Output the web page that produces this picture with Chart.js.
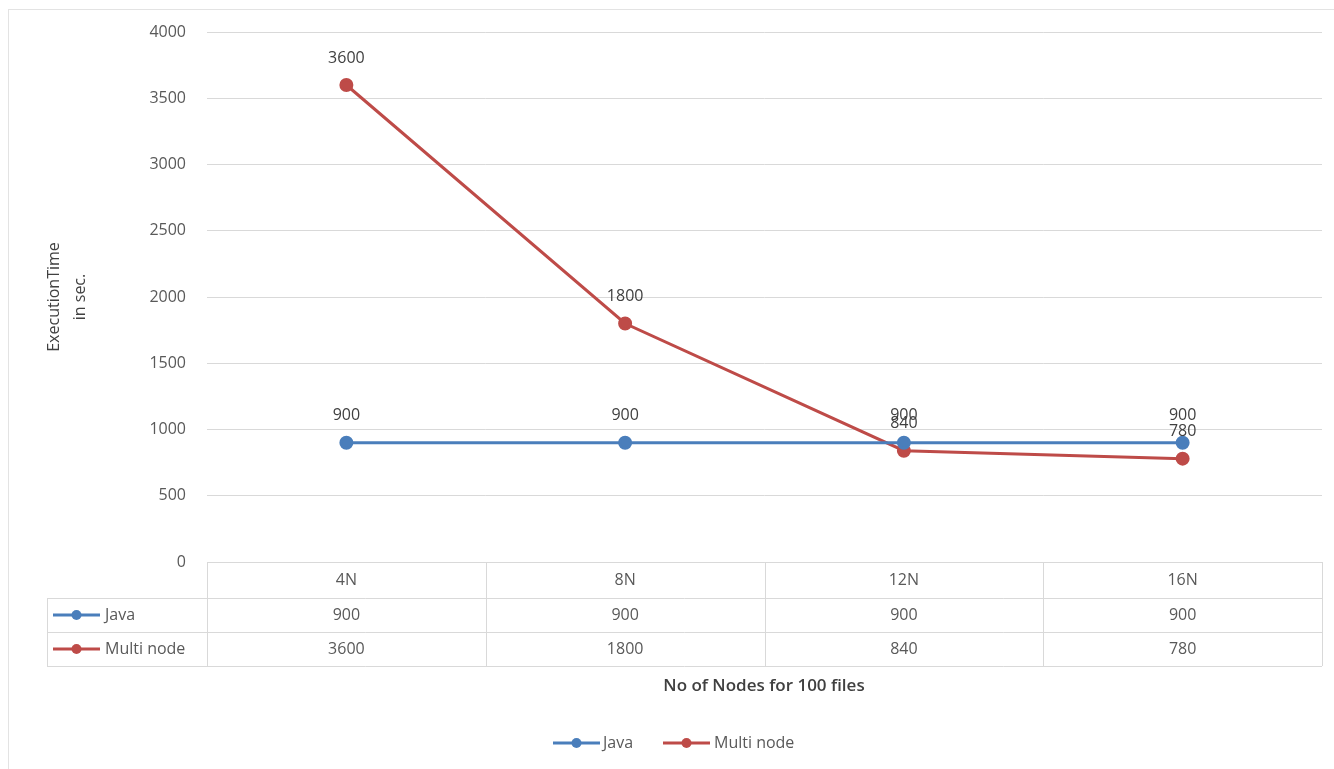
<!DOCTYPE html>
<html>
<head>
<meta charset="utf-8">
<script src="https://cdn.jsdelivr.net/npm/chart.js@4/dist/chart.umd.min.js"></script>
<style>
  html, body { margin: 0; padding: 0; background: #ffffff; }
  #wrap { width: 1334px; height: 769px; position: relative; }
</style>
</head>
<body>
<div id="wrap"><canvas id="c" width="1334" height="769"></canvas></div>
<script>
// Node counts on the horizontal axis
const categories = ['4N', '8N', '12N', '16N'];
// Execution time in seconds for each configuration
const javaTimes = [900, 900, 900, 900];
const multiNodeTimes = [3600, 1800, 840, 780];
// Value axis ticks
const yTicks = [0, 500, 1000, 1500, 2000, 2500, 3000, 3500, 4000];

const seriesNames = ['Java', 'Multi node'];
const seriesColors = ['#4a7ebb', '#be4b48'];
const FONT = '"Open Sans", "Noto Sans", sans-serif';
const TEXT = '#595959';
const GRID = '#d9d9d9';

// Draws a legend key: short line with a dot in the middle
function drawKey(ctx, x1, x2, y, color) {
  ctx.save();
  ctx.strokeStyle = color;
  ctx.lineWidth = 3;
  ctx.beginPath();
  ctx.moveTo(x1, y);
  ctx.lineTo(x2, y);
  ctx.stroke();
  ctx.fillStyle = color;
  ctx.beginPath();
  ctx.arc((x1 + x2) / 2, y, 5, 0, Math.PI * 2);
  ctx.fill();
  ctx.restore();
}

const decorations = {
  id: 'decorations',
  beforeDraw(chart) {
    const ctx = chart.ctx;
    ctx.save();
    ctx.fillStyle = '#ffffff';
    ctx.fillRect(0, 0, chart.width, chart.height);
    // outer frame
    ctx.strokeStyle = '#e3e3e3';
    ctx.lineWidth = 1;
    ctx.strokeRect(8.5, 9.5, chart.width + 10, chart.height + 10);
    ctx.restore();
  },
  afterDatasetsDraw(chart) {
    const ctx = chart.ctx;
    const area = chart.chartArea;
    const xs = chart.scales.x;

    // value labels above each point
    ctx.save();
    ctx.font = '16px ' + FONT;
    ctx.fillStyle = '#404040';
    ctx.textAlign = 'center';
    ctx.textBaseline = 'middle';
    chart.data.datasets.forEach((ds, di) => {
      const meta = chart.getDatasetMeta(di);
      meta.data.forEach((pt, i) => {
        ctx.fillText(String(ds.data[i]), pt.x, pt.y - 27);
      });
    });
    ctx.restore();

    // data table below the plot
    const top = area.bottom;
    const rowH = [36, 34, 34];
    const r1 = top + rowH[0];
    const r2 = r1 + rowH[1];
    const r3 = r2 + rowH[2];
    const leftCol = 47;
    const n = categories.length;
    const colW = (area.right - area.left) / n;

    ctx.save();
    ctx.strokeStyle = GRID;
    ctx.lineWidth = 1;
    ctx.beginPath();
    // horizontal rules
    ctx.moveTo(area.left, Math.round(top) + 0.5);
    ctx.lineTo(area.right, Math.round(top) + 0.5);
    [r1, r2, r3].forEach(y => {
      ctx.moveTo(leftCol, Math.round(y) + 0.5);
      ctx.lineTo(area.right, Math.round(y) + 0.5);
    });
    // vertical rules
    ctx.moveTo(leftCol + 0.5, r1);
    ctx.lineTo(leftCol + 0.5, r3);
    for (let i = 0; i <= n; i++) {
      const x = Math.round(area.left + i * colW) + 0.5;
      ctx.moveTo(x, top);
      ctx.lineTo(x, r3);
    }
    ctx.stroke();

    ctx.font = '16px ' + FONT;
    ctx.fillStyle = TEXT;
    ctx.textAlign = 'center';
    ctx.textBaseline = 'middle';
    categories.forEach((c, i) => {
      const cx = xs.getPixelForValue(i);
      ctx.fillText(c, cx, (top + r1) / 2);
      ctx.fillText(String(javaTimes[i]), cx, (r1 + r2) / 2);
      ctx.fillText(String(multiNodeTimes[i]), cx, (r2 + r3) / 2);
    });

    // series keys in the first column
    const rowMid = [(r1 + r2) / 2, (r2 + r3) / 2];
    seriesNames.forEach((name, si) => {
      drawKey(ctx, 53, 100, rowMid[si], seriesColors[si]);
      ctx.fillStyle = TEXT;
      ctx.textAlign = 'left';
      ctx.fillText(name, 105, rowMid[si]);
    });

    // horizontal axis title
    ctx.font = '600 17px ' + FONT;
    ctx.fillStyle = '#404040';
    ctx.textAlign = 'center';
    ctx.fillText('No of Nodes for 100 files', 764, 686);

    // vertical axis title
    ctx.save();
    ctx.translate(0, 297);
    ctx.rotate(-Math.PI / 2);
    ctx.font = '16px ' + FONT;
    ctx.fillText('ExecutionTime', 0, 54);
    ctx.fillText('in sec.', 0, 80);
    ctx.restore();

    // legend at the bottom
    ctx.font = '16px ' + FONT;
    ctx.fillStyle = TEXT;
    ctx.textAlign = 'left';
    drawKey(ctx, 553, 600, 743, seriesColors[0]);
    ctx.fillText(seriesNames[0], 603, 743);
    drawKey(ctx, 663, 710, 743, seriesColors[1]);
    ctx.fillStyle = TEXT;
    ctx.fillText(seriesNames[1], 714, 743);
    ctx.restore();
  }
};

new Chart(document.getElementById('c'), {
  type: 'line',
  data: {
    labels: categories,
    datasets: [
      {
        label: seriesNames[0],
        data: javaTimes,
        borderColor: seriesColors[0],
        backgroundColor: seriesColors[0],
        borderWidth: 3,
        pointRadius: 5.5,
        pointHoverRadius: 5.5,
        tension: 0
      },
      {
        label: seriesNames[1],
        data: multiNodeTimes,
        borderColor: seriesColors[1],
        backgroundColor: seriesColors[1],
        borderWidth: 3,
        pointRadius: 5.5,
        pointHoverRadius: 5.5,
        tension: 0
      }
    ]
  },
  options: {
    responsive: false,
    animation: false,
    events: [],
    layout: { padding: { left: 0, right: 12, top: 32, bottom: 207 } },
    plugins: {
      legend: { display: false },
      tooltip: { enabled: false }
    },
    scales: {
      x: {
        type: 'category',
        offset: true,
        display: false
      },
      y: {
        min: yTicks[0],
        max: yTicks[yTicks.length - 1],
        afterBuildTicks(scale) {
          scale.ticks = yTicks.map(v => ({ value: v }));
        },
        afterFit(scale) { scale.width = 207; },
        border: { display: false },
        grid: { color: GRID, lineWidth: 1, drawTicks: false },
        ticks: {
          padding: 21,
          color: TEXT,
          font: { family: FONT, size: 16 },
          callback: (v) => String(v)
        }
      }
    }
  },
  plugins: [decorations]
});
</script>
</body>
</html>
